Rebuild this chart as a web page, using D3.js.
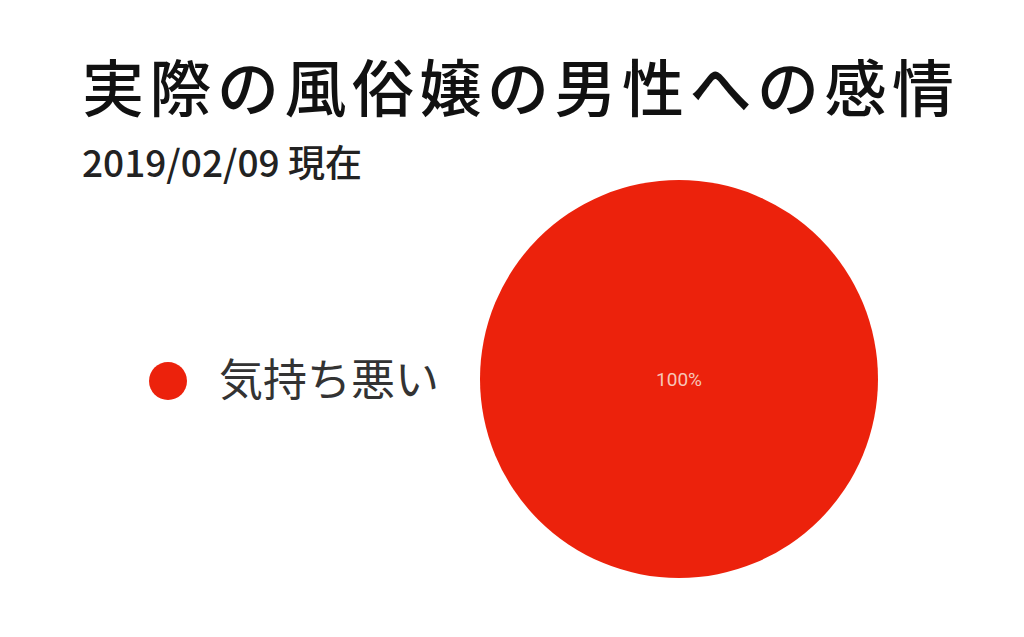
<!DOCTYPE html>
<html>
<head>
<meta charset="utf-8">
<script src="https://cdn.jsdelivr.net/npm/d3@7"></script>
<style>
  body { margin: 0; background: #fff; }
  svg { display: block; font-family: "Noto Sans CJK JP", "Noto Sans", sans-serif; }
</style>
</head>
<body>
<svg id="chart" width="1024" height="637"></svg>
<script>
const title = "実際の風俗嬢の男性への感情";
const subtitle = "2019/02/09 現在";
const categories = ["気持ち悪い"];
const values = [100];
const colors = ["#ec220c"];

const svg = d3.select("#chart");
const width = 1024, height = 637;

svg.append("rect").attr("width", width).attr("height", height).attr("fill", "#fff");

svg.append("text")
  .attr("x", 82)
  .attr("y", 112)
  .attr("font-size", 62)
  .attr("font-weight", 500)
  .attr("letter-spacing", 5.5)
  .attr("fill", "#111")
  .text(title);

svg.append("text")
  .attr("x", 82)
  .attr("y", 177)
  .attr("font-size", 37)
  .attr("font-weight", 500)
  .attr("fill", "#222")
  .text(subtitle);

// pie
const cx = 679, cy = 379, r = 199;
const pie = d3.pie().sort(null)(values);
const arc = d3.arc().innerRadius(0).outerRadius(r);
const total = d3.sum(values);

const g = svg.append("g").attr("transform", `translate(${cx},${cy})`);
g.selectAll("path")
  .data(pie)
  .join("path")
  .attr("d", arc)
  .attr("fill", (d, i) => colors[i]);

g.selectAll("text")
  .data(pie)
  .join("text")
  .attr("transform", d => values.length > 1 ? `translate(${arc.centroid(d)})` : null)
  .attr("text-anchor", "middle")
  .attr("dy", "0.35em")
  .attr("font-family", "Roboto, sans-serif")
  .attr("font-size", 19)
  .attr("fill", "#f7c6b8")
  .text(d => Math.round(d.data / total * 100) + "%");

// legend
const legend = svg.append("g")
  .selectAll("g")
  .data(categories)
  .join("g")
  .attr("transform", (d, i) => `translate(168,${381 + i * 60})`);

legend.append("circle")
  .attr("r", 19)
  .attr("fill", (d, i) => colors[i]);

legend.append("text")
  .attr("x", 51)
  .attr("dy", "0.35em")
  .attr("font-size", 44)
  .attr("fill", "#333")
  .text(d => d);
</script>
</body>
</html>
